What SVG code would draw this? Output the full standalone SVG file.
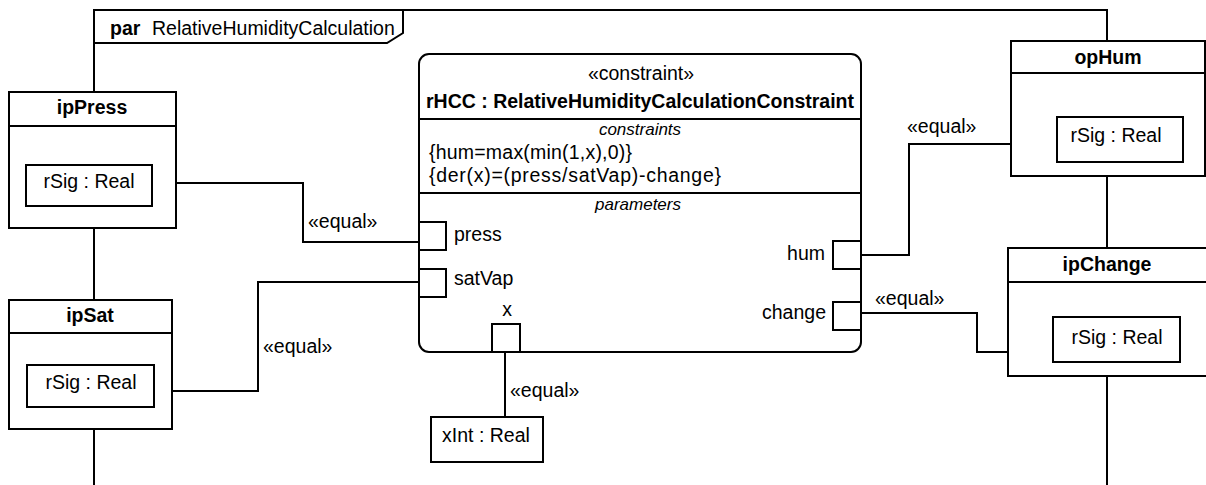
<svg xmlns="http://www.w3.org/2000/svg" width="1206" height="485" viewBox="0 0 1206 485">
<style>
.ln{fill:none;stroke:#000;stroke-width:2}
.bx{fill:#fff;stroke:#000;stroke-width:2}
text{font-family:"Liberation Sans",Arial,sans-serif;font-size:19.5px;fill:#000}
.b{font-weight:bold}
.i{font-style:italic;font-size:17px}
.m{text-anchor:middle}
.e{text-anchor:end}
</style>
<rect width="1206" height="485" fill="#fff"/>
<g id="frame">
<path class="ln" d="M94,485 V10 H1107 V485"/>
<path class="ln" d="M94,43 H387 L403,33 V10"/>
<text x="110" y="35"><tspan class="b">par</tspan><tspan x="152">RelativeHumidityCalculation</tspan></text>
</g>
<g id="connectors">
<path class="ln" d="M152,183 H303 V242 H419"/>
<text x="308" y="228">«equal»</text>
<path class="ln" d="M154,391 H258 V282 H419"/>
<text x="263" y="353">«equal»</text>
<path class="ln" d="M861,255 H909 V144 H1057"/>
<text x="907" y="133">«equal»</text>
<path class="ln" d="M861,313 H977 V352 H1053"/>
<text x="875" y="305">«equal»</text>
<path class="ln" d="M505,352 V417"/>
<text x="510" y="397">«equal»</text>
</g>
<g id="ipPress">
<rect class="bx" x="9" y="92" width="167" height="136"/>
<path class="ln" d="M9,126 H176"/>
<text class="b m" x="92" y="114">ipPress</text>
<rect class="bx" x="26" y="165" width="126" height="41"/>
<text class="m" x="89" y="188">rSig : Real</text>
</g>
<g id="ipSat">
<rect class="bx" x="9" y="300" width="163" height="129"/>
<path class="ln" d="M9,333 H172"/>
<text class="b m" x="90" y="322">ipSat</text>
<rect class="bx" x="27" y="365" width="127" height="42"/>
<text class="m" x="91" y="389">rSig : Real</text>
</g>
<g id="opHum">
<rect class="bx" x="1011" y="41" width="194" height="135"/>
<path class="ln" d="M1011,73 H1205"/>
<text class="b m" x="1108" y="64">opHum</text>
<rect class="bx" x="1057" y="117" width="126" height="45"/>
<text class="m" x="1116" y="142">rSig : Real</text>
</g>
<g id="ipChange">
<rect class="bx" x="1008" y="248" width="210" height="128"/>
<path class="ln" d="M1008,282 H1218"/>
<text class="b m" x="1107" y="271">ipChange</text>
<rect class="bx" x="1053" y="317" width="127" height="45"/>
<text class="m" x="1117" y="344">rSig : Real</text>
</g>
<g id="xInt">
<rect class="bx" x="431" y="417" width="112" height="45"/>
<text class="m" x="486" y="442">xInt : Real</text>
</g>
<g id="rHCC">
<rect class="bx" x="419" y="54" width="442" height="298" rx="10" ry="10"/>
<path class="ln" d="M419,119 H861 M419,193 H861"/>
<text class="m" x="641" y="80">«constraint»</text>
<text class="b m" x="640" y="108">rHCC : RelativeHumidityCalculationConstraint</text>
<text class="i m" x="640" y="135">constraints</text>
<text x="429" y="159" textLength="203">{hum=max(min(1,x),0)}</text>
<text x="429" y="182" textLength="292">{der(x)=(press/satVap)-change}</text>
<text class="i m" x="638" y="210">parameters</text>
<rect class="bx" x="419" y="222" width="27" height="28"/>
<text x="454" y="241">press</text>
<rect class="bx" x="419" y="269" width="27" height="28"/>
<text x="454" y="285">satVap</text>
<rect class="bx" x="492" y="324" width="28" height="28"/>
<text class="m" x="507" y="316">x</text>
<rect class="bx" x="833" y="241" width="28" height="28"/>
<text class="e" x="825" y="260">hum</text>
<rect class="bx" x="833" y="302" width="28" height="28"/>
<text class="e" x="826" y="319">change</text>
</g>
</svg>
